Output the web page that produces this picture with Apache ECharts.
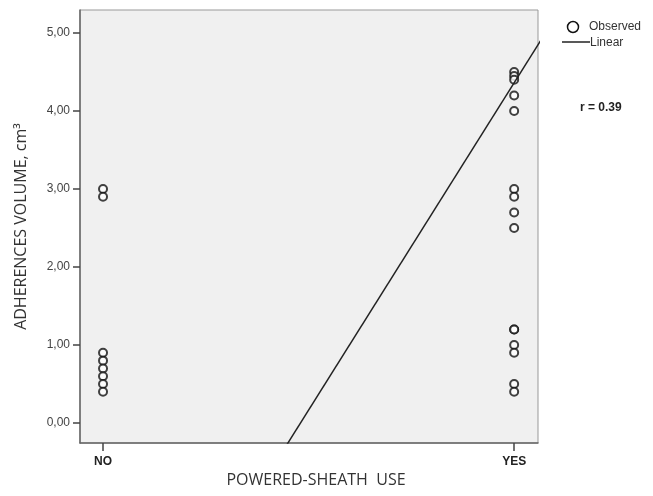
<!DOCTYPE html>
<html><head><meta charset="utf-8">
<script src="https://cdn.jsdelivr.net/npm/echarts@6/dist/echarts.min.js"></script>
<style>html,body{margin:0;padding:0;background:#fff}#c{width:653px;height:496px}</style>
</head><body><div id="c"></div>
<script>
var categories = ['NO', 'YES'];
var categoryPos = [0, 1];
var noValues = [3.0, 2.9, 0.9, 0.8, 0.7, 0.6, 0.5, 0.4];
var yesValues = [4.5, 4.45, 4.4, 4.2, 4.0, 3.0, 2.9, 2.7, 2.5, 1.2, 1.2, 1.0, 0.9, 0.5, 0.4];
var fitX = [0, 1.2];
var fitY = [-4.03, 6.04];
var yTicks = [0, 1, 2, 3, 4, 5];

var observed = [];
noValues.forEach(function (v) { observed.push([categoryPos[0], v]); });
yesValues.forEach(function (v) { observed.push([categoryPos[1], v]); });
var fit = fitX.map(function (x, i) { return [x, fitY[i]]; });

var chart = echarts.init(document.getElementById('c'));
chart.setOption({
  animation: false,
  backgroundColor: '#fff',
  grid: { left: 80, right: 115, top: 10, bottom: 53, show: true, backgroundColor: '#f0f0f0', borderColor: '#999', borderWidth: 1 },
  xAxis: {
    type: 'value', min: -0.056, max: 1.058,
    name: 'POWERED-SHEATH  USE', nameLocation: 'middle', nameGap: 29,
    nameTextStyle: { fontFamily: 'Open Sans', fontSize: 16, color: '#333', padding: [0, 0, 0, 14] },
    axisLine: { show: true, onZero: false, lineStyle: { color: '#666', width: 1.5 } },
    axisTick: { show: true, length: 8, customValues: categoryPos, lineStyle: { color: '#444', width: 1.5 } },
    axisLabel: { customValues: categoryPos, margin: 13, fontFamily: 'Arial', fontWeight: 'bold', fontSize: 12, color: '#222',
      formatter: function (v) { return categories[categoryPos.indexOf(Math.round(v))] || ''; } },
    splitLine: { show: false }
  },
  yAxis: {
    type: 'value', min: -0.256, max: 5.295,
    name: 'ADHERENCES VOLUME, cm\u00B3', nameLocation: 'middle', nameGap: 51,
    nameTextStyle: { fontFamily: 'Open Sans', fontSize: 16, color: '#333' },
    axisLine: { show: true, onZero: false, lineStyle: { color: '#666', width: 1.5 } },
    axisTick: { show: true, length: 7, customValues: yTicks, lineStyle: { color: '#444', width: 1.5 } },
    axisLabel: { customValues: yTicks, margin: 10, fontFamily: 'Arial', fontSize: 12, color: '#444',
      formatter: function (v) { return v.toFixed(2).replace('.', ','); } },
    splitLine: { show: false }
  },
  graphic: [
    { type: 'circle', shape: { cx: 573, cy: 27, r: 5.5 }, style: { fill: 'none', stroke: '#111', lineWidth: 1.5 } },
    { type: 'text', x: 589, y: 27, style: { text: 'Observed', font: '12px Arial', fill: '#333', verticalAlign: 'middle' } },
    { type: 'line', shape: { x1: 562, y1: 42, x2: 590, y2: 42 }, style: { stroke: '#222', lineWidth: 1.5 } },
    { type: 'text', x: 590, y: 43, style: { text: 'Linear', font: '12px Arial', fill: '#333', verticalAlign: 'middle' } },
    { type: 'text', x: 580, y: 102, style: { text: 'r = 0.39', font: 'bold 12px Arial', fill: '#222' } }
  ],
  series: [
    { name: 'Observed', type: 'scatter', symbol: 'emptyCircle', symbolSize: 8,
      itemStyle: { color: '#111', borderColor: '#111', borderWidth: 1.5 }, data: observed },
    { name: 'Linear', type: 'line', symbol: 'none', clip: true,
      lineStyle: { color: '#222', width: 1.5 }, itemStyle: { color: '#222' }, data: fit }
  ]
});
</script></body></html>
